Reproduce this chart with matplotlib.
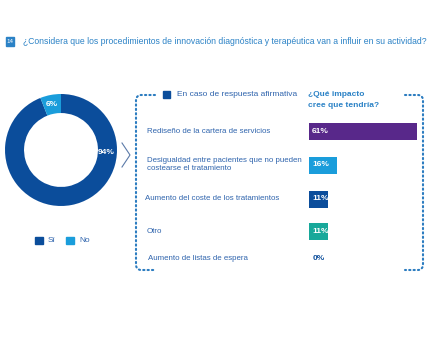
import numpy as np
import matplotlib
matplotlib.use("Agg")
import matplotlib.pyplot as plt
from matplotlib.patches import Rectangle

plt.rcParams['font.family'] = ['Liberation Sans', 'DejaVu Sans']

# ---------------- data ----------------
title = "¿Considera que los procedimientos de innovación diagnóstica y terapéutica van a influir en su actividad?"
donut_labels = ["Sí", "No"]
donut_values = [94, 6]
donut_colors = ["#0b4d9b", "#1a9ddb"]

impact_labels = [
    "Rediseño de la cartera de servicios",
    "Desigualdad entre pacientes que no pueden\ncostearse el tratamiento",
    "Aumento del coste de los tratamientos",
    "Otro",
    "Aumento de listas de espera",
]
impact_values = [61, 16, 11, 11, 0]
impact_colors = ["#58288a", "#1a9ddb", "#0b4d9b", "#17a89a", "#0b4d9b"]

W, H = 440, 350
fig = plt.figure(figsize=(W / 100, H / 100), dpi=100)
fig.patch.set_facecolor("white")

# overlay axes in pixel coordinates for text/decoration
ov = fig.add_axes([0, 0, 1, 1])
ov.set_xlim(0, W)
ov.set_ylim(H, 0)
ov.axis("off")

text_blue = "#2f64ad"
title_blue = "#2b82c6"
dot_blue = "#2b7cc0"

# title
ov.add_patch(Rectangle((6, 37), 8, 9, color=title_blue, zorder=2))
ov.text(10, 41.7, "14", color="white", fontsize=4.5, ha="center", va="center", zorder=3)
ov.text(23, 41, title, color=title_blue, fontsize=6.2, ha="left", va="center")

# ---------------- donut ----------------
cx, cy, r = 61, 150, 56
dax = fig.add_axes([(cx - r) / W, 1 - (cy + r) / H, 2 * r / W, 2 * r / H])
wedges, _ = dax.pie(donut_values, colors=donut_colors, startangle=90, counterclock=False,
                    radius=1, wedgeprops=dict(width=0.34, edgecolor="none"))
dax.set_xlim(-1, 1)
dax.set_ylim(-1, 1)
dax.set_aspect("equal")
# value labels placed on the ring
for w, v in zip(wedges, donut_values):
    ang = np.deg2rad((w.theta1 + w.theta2) / 2)
    rr = 0.80 if v > 50 else 0.83
    if v > 50:
        ang = np.deg2rad(-3)
    dax.text(rr * np.cos(ang), rr * np.sin(ang), f"{v}%", color="white",
             fontsize=6, fontweight="bold", ha="center", va="center")

# donut legend
lx = [35, 66]
for x, lab, col in zip(lx, donut_labels, donut_colors):
    ov.add_patch(Rectangle((x, 236.5), 8, 7, color=col))
    ov.text(x + 13, 240, lab, color=text_blue, fontsize=6, ha="left", va="center")

# chevron
ov.plot([122, 130, 122], [143, 155, 167], color="#5b7aa8", lw=0.8)

# ---------------- dotted box ----------------
def corner(cxp, cyp, rad, a0, a1):
    t = np.linspace(np.deg2rad(a0), np.deg2rad(a1), 8)
    return cxp + rad * np.cos(t), cyp + rad * np.sin(t)

L, R, T, B, rad = 136, 423, 95, 270, 5
dkw = dict(color=dot_blue, lw=1.5, linestyle=(0, (0.6, 1.5)), dash_capstyle="round")
# left
xs1, ys1 = corner(L + rad, T + rad, rad, 270, 180)
xs2, ys2 = corner(L + rad, B - rad, rad, 180, 90)
ov.plot(np.r_[155, xs1, xs2, 155], np.r_[T, ys1, ys2, B], **dkw)
# right
xs1, ys1 = corner(R - rad, T + rad, rad, 270, 360)
xs2, ys2 = corner(R - rad, B - rad, rad, 0, 90)
ov.plot(np.r_[405, xs1, xs2, 405], np.r_[T, ys1, ys2, B], **dkw)

# header
ov.add_patch(Rectangle((163, 91), 7, 7, color="#0b4d9b"))
ov.text(177, 94.5, "En caso de respuesta afirmativa", color=text_blue, fontsize=6,
        ha="left", va="center")
ov.text(308, 94.5, "¿Qué impacto", color=title_blue, fontsize=6, fontweight="bold",
        ha="left", va="center")
ov.text(308, 105.5, "cree que tendría?", color=title_blue, fontsize=6, fontweight="bold",
        ha="left", va="center")

# ---------------- bars ----------------
row_y = [131.5, 165, 199, 231.5, 259]
label_x = [147, 147, 145, 147, 148]
bar_left, px_per_pct = 309, 1.77
xmax = 70
bax = fig.add_axes([bar_left / W, 1 - 275 / H, xmax * px_per_pct / W, (275 - 110) / H])
bax.set_xlim(0, xmax)
bax.set_ylim(275, 110)
bax.axis("off")
bax.patch.set_alpha(0)
bax.barh(row_y[:4], impact_values[:4], height=17, left=0, color=impact_colors[:4])
for yv, v in zip(row_y, impact_values):
    col = "white" if v > 0 else "#0b4d9b"
    bax.text(1.8, yv, f"{v}%", color=col, fontsize=6, fontweight="bold",
             ha="left", va="center")

for lab, yv, xv in zip(impact_labels, row_y, label_x):
    if "\n" in lab:
        l1, l2 = lab.split("\n")
        ov.text(xv, yv - 4, l1, color=text_blue, fontsize=5.7, ha="left", va="center")
        ov.text(xv, yv + 4, l2, color=text_blue, fontsize=5.7, ha="left", va="center")
    else:
        ov.text(xv, yv, lab, color=text_blue, fontsize=5.7, ha="left", va="center")

fig.savefig("out.png", dpi=100, facecolor="white")
